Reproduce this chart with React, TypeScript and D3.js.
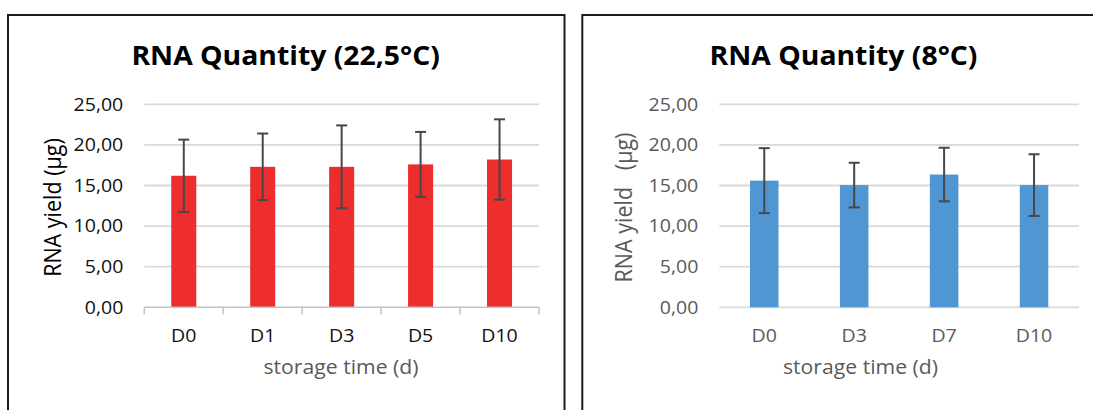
import React from "react";
import * as d3 from "d3";

// Storage-time categories and RNA yields (µg) with standard deviations
const daysWarm = ["D0", "D1", "D3", "D5", "D10"];
const yieldWarm = [16.2, 17.3, 17.3, 17.6, 18.2];
const sdWarm = [4.45, 4.1, 5.1, 4.0, 4.95];

const daysCold = ["D0", "D3", "D7", "D10"];
const yieldCold = [15.6, 15.05, 16.35, 15.05];
const sdCold = [4.0, 2.75, 3.3, 3.8];

const yTicks = [0, 5, 10, 15, 20, 25];

const locale = d3.formatLocale({
  decimal: ",",
  thousands: ".",
  grouping: [3],
  currency: ["", " €"],
});
const fmt = locale.format(".2f");

const FONT = "'Open Sans', 'DejaVu Sans', sans-serif";
const SX = 1.13; // horizontal glyph stretch

type TextProps = {
  x: number;
  y: number;
  sx?: number;
  rotate?: number;
  anchor?: "start" | "middle" | "end";
  size: number;
  weight?: number | string;
  fill: string;
  children: React.ReactNode;
};

function SText({ x, y, sx = SX, rotate = 0, anchor = "middle", size, weight = 400, fill, children }: TextProps) {
  return (
    <text
      transform={`translate(${x},${y}) scale(${sx},1)${rotate ? ` rotate(${rotate})` : ""}`}
      textAnchor={anchor}
      fontFamily={FONT}
      fontSize={size}
      fontWeight={weight}
      fill={fill}
      style={{ whiteSpace: "pre" }}
    >
      {children}
    </text>
  );
}

type PanelProps = {
  frame: { x: number; y: number; w: number; h: number };
  plot: { x0: number; x1: number; y0: number; y1: number };
  title: string;
  titleX: number;
  yTitle: string;
  yTitleX: number;
  xTitleX: number;
  cats: string[];
  means: number[];
  errs: number[];
  barColor: string;
  tickColor: string;
  yTitleColor: string;
  xAxisTicks: boolean;
};

function Panel(p: PanelProps) {
  const { plot } = p;
  const gap = 0.683;
  const x = d3
    .scaleBand<string>()
    .domain(p.cats)
    .range([plot.x0, plot.x1])
    .paddingInner(gap)
    .paddingOuter(gap / 2);
  const y = d3.scaleLinear().domain([0, 25]).range([plot.y1, plot.y0]);
  const bw = x.bandwidth();
  const step = x.step();
  const capHalf = 5.5;
  const boundaries = d3.range(p.cats.length + 1).map((i) => plot.x0 + i * step);

  return (
    <g>
      <rect
        x={p.frame.x}
        y={p.frame.y}
        width={p.frame.w}
        height={p.frame.h}
        fill="#fff"
        stroke="#1c1c1c"
        strokeWidth={2}
      />
      <SText x={p.titleX} y={64.7} size={27} weight={700} fill="#000" sx={1.05}>
        {p.title}
      </SText>

      {/* gridlines and value labels */}
      {yTicks.map((t) => (
        <g key={t}>
          {!(t === 0 && p.xAxisTicks) && (
            <line x1={plot.x0} x2={plot.x1} y1={y(t)} y2={y(t)} stroke="#d9d9d9" strokeWidth={1.8} />
          )}
          <SText x={plot.x0 - 21} y={y(t) + 6.3} anchor="end" size={17.3} fill={p.tickColor}>
            {fmt(t)}
          </SText>
        </g>
      ))}

      {/* bars */}
      {p.cats.map((c, i) => (
        <rect key={c} x={x(c)} y={y(p.means[i])} width={bw} height={y(0) - y(p.means[i])} fill={p.barColor} />
      ))}

      {/* category axis */}
      {p.xAxisTicks && (
        <g stroke="#c4c4c4" strokeWidth={1.6}>
          <line x1={plot.x0} x2={plot.x1} y1={y(0)} y2={y(0)} />
          {boundaries.map((bx, i) => (
            <line key={i} x1={bx} x2={bx} y1={y(0)} y2={y(0) + 7} />
          ))}
        </g>
      )}

      {/* error bars */}
      {p.cats.map((c, i) => {
        const cx = (x(c) as number) + bw / 2;
        const hi = y(p.means[i] + p.errs[i]);
        const lo = y(p.means[i] - p.errs[i]);
        return (
          <g key={c} stroke="#474747" strokeWidth={2}>
            <line x1={cx} x2={cx} y1={hi} y2={lo} />
            <line x1={cx - capHalf} x2={cx + capHalf} y1={hi} y2={hi} />
            <line x1={cx - capHalf} x2={cx + capHalf} y1={lo} y2={lo} />
          </g>
        );
      })}

      {p.cats.map((c) => (
        <SText key={c} x={(x(c) as number) + bw / 2} y={341.5} size={17.3} fill={p.tickColor}>
          {c}
        </SText>
      ))}

      <SText x={p.xTitleX} y={374} size={20} sx={1.06} fill="#595959">
        storage time (d)
      </SText>
      <SText x={p.yTitleX} y={207.5} size={21.5} rotate={-90} fill={p.yTitleColor}>
        {p.yTitle}
      </SText>
    </g>
  );
}

export default function App() {
  return (
    <svg
      width={1093}
      height={410}
      style={{ position: "absolute", left: 0, top: 0, background: "#fff" }}
    >
      <Panel
        frame={{ x: 8, y: 15, w: 556.5, h: 420 }}
        plot={{ x0: 144.3, x1: 539, y0: 104.3, y1: 307.3 }}
        title="RNA Quantity (22,5°C)"
        titleX={285.6}
        yTitle="RNA yield (µg)"
        yTitleX={61}
        xTitleX={341}
        cats={daysWarm}
        means={yieldWarm}
        errs={sdWarm}
        barColor="#ee2d2f"
        tickColor="#111"
        yTitleColor="#000"
        xAxisTicks={true}
      />
      <Panel
        frame={{ x: 582.3, y: 15, w: 540, h: 420 }}
        plot={{ x0: 719.3, x1: 1079, y0: 104.3, y1: 307.3 }}
        title="RNA Quantity (8°C)"
        titleX={843.5}
        yTitle="RNA yield   (µg)"
        yTitleX={632}
        xTitleX={860.5}
        cats={daysCold}
        means={yieldCold}
        errs={sdCold}
        barColor="#5096d3"
        tickColor="#595959"
        yTitleColor="#595959"
        xAxisTicks={false}
      />
    </svg>
  );
}
